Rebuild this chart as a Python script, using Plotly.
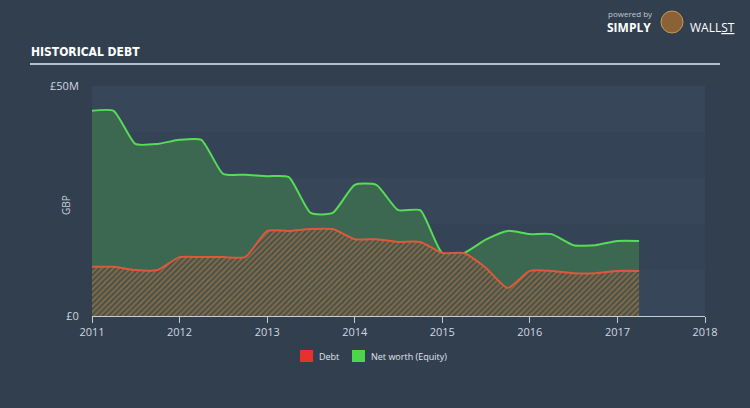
import plotly.graph_objects as go

dates = ["2011-01-01", "2011-04-01", "2011-07-01", "2011-10-01",
         "2012-01-01", "2012-04-01", "2012-07-01", "2012-10-01",
         "2013-01-01", "2013-04-01", "2013-07-01", "2013-10-01",
         "2014-01-01", "2014-04-01", "2014-07-01", "2014-10-01",
         "2015-01-01", "2015-04-01", "2015-07-01", "2015-10-01",
         "2016-01-01", "2016-04-01", "2016-07-01", "2016-10-01",
         "2017-01-01", "2017-04-01"]
equity = [44.6, 44.6, 37.4, 37.4,
          38.3, 38.3, 30.9, 30.7,
          30.4, 30.2, 22.4, 22.4,
          28.5, 28.5, 23.0, 23.0,
          13.7, 13.7, 16.6, 18.5,
          17.8, 17.8, 15.4, 15.4,
          16.3, 16.3]
debt = [10.7, 10.7, 10.0, 10.0,
        12.8, 12.8, 12.8, 12.8,
        18.5, 18.5, 18.9, 18.9,
        16.7, 16.7, 16.1, 16.1,
        13.7, 13.7, 10.5, 6.1,
        9.8, 9.8, 9.3, 9.3,
        9.8, 9.8]
year_ticks = ["2011-01-01", "2012-01-01", "2013-01-01", "2014-01-01",
              "2015-01-01", "2016-01-01", "2017-01-01", "2018-01-01"]
year_labels = ["2011", "2012", "2013", "2014", "2015", "2016", "2017", "2018"]
y_ticks = [0, 50]
y_labels = ["£0", "£50M"]
band_edges = [(0, 10), (20, 30), (40, 50)]
legend_names = ["Debt", "Net worth (Equity)"]
legend_colors = ["#e8302c", "#4cd64c"]

L, T, W, H = 92, 86, 613, 230


def px(x):
    return (x - L) / W


def py(y):
    return (T + H - y) / H


fig = go.Figure()
fig.add_trace(go.Scatter(
    x=dates, y=equity, mode="lines", line=dict(color="#57dc57", width=2, shape="spline", smoothing=0.55),
    fill="tozeroy", fillcolor="#3c6751", showlegend=False, hoverinfo="skip"))
fig.add_trace(go.Scatter(
    x=dates, y=debt, mode="lines", line=dict(color="#e0583c", width=2, shape="spline", smoothing=0.55),
    fill="tozeroy", fillcolor="#4f5246",
    fillpattern=dict(shape="/", fgcolor="#bb8650", bgcolor="#475046", size=4, solidity=0.5),
    showlegend=False, hoverinfo="skip"))

shapes = []
for y0, y1 in band_edges:
    shapes.append(dict(type="rect", xref="paper", yref="y", x0=0, x1=1, y0=y0, y1=y1,
                       fillcolor="#374658", line=dict(width=0), layer="below"))
# title underline
shapes.append(dict(type="line", xref="paper", yref="paper", x0=px(30), x1=px(720),
                   y0=py(64), y1=py(64), line=dict(color="#b4c2d0", width=2)))
# logo mascot placeholder
shapes.append(dict(type="circle", xref="paper", yref="paper", x0=px(661), x1=px(683),
                   y0=py(33), y1=py(11), fillcolor="#8a6236", line=dict(color="#c89a58", width=1)))

# manual legend
legend_x = [300, 352]
for lx, col in zip(legend_x, legend_colors):
    shapes.append(dict(type="rect", xref="paper", yref="paper", x0=px(lx), x1=px(lx + 13),
                       y0=py(362), y1=py(350), fillcolor=col, line=dict(width=0)))

annotations = [
    dict(text="<b>HISTORICAL DEBT</b>", xref="paper", yref="paper", x=px(29), y=py(61),
         xanchor="left", yanchor="bottom", showarrow=False,
         font=dict(family="DejaVu Sans Condensed", size=12, color="#ffffff")),
    dict(text="GBP", xref="paper", yref="paper", x=px(57), y=py(205), textangle=-90,
         showarrow=False, font=dict(family="Open Sans", size=10, color="#c8d0da")),
    dict(text="powered by", xref="paper", yref="paper", x=px(606), y=py(13),
         xanchor="left", yanchor="middle", showarrow=False,
         font=dict(family="Open Sans", size=8, color="#c0c8d2")),
    dict(text="<b>SIMPLY</b>", xref="paper", yref="paper", x=px(605), y=py(28),
         xanchor="left", yanchor="middle", showarrow=False,
         font=dict(family="Open Sans", size=12, color="#ffffff")),
    dict(text="WALL<u>ST</u>", xref="paper", yref="paper", x=px(688), y=py(28),
         xanchor="left", yanchor="middle", showarrow=False,
         font=dict(family="Open Sans", size=12, color="#ffffff")),
]
for lx, name in zip(legend_x, legend_names):
    annotations.append(dict(text=name, xref="paper", yref="paper", x=px(lx + 17), y=py(356),
                            xanchor="left", yanchor="middle", showarrow=False,
                            font=dict(family="Open Sans", size=9, color="#e0e6ee")))

fig.update_layout(
    width=750, height=408,
    margin=dict(l=L, r=750 - L - W, t=T, b=408 - T - H),
    paper_bgcolor="#323f4f", plot_bgcolor="#344355",
    font=dict(family="Open Sans", color="#d0d7e0", size=11),
    shapes=shapes, annotations=annotations, showlegend=False,
    xaxis=dict(type="date", range=["2011-01-01", "2018-01-01"], tickvals=year_ticks, ticktext=year_labels,
               showgrid=False, zeroline=False, showline=True, linecolor="#c4ccd6", linewidth=1,
               ticks="outside", ticklen=6, tickcolor="#c4ccd6", tickfont=dict(size=11, color="#d0d7e0")),
    yaxis=dict(range=[0, 50], tickvals=y_ticks, ticktext=y_labels, showgrid=False, zeroline=False,
               showline=False, ticks="outside", ticklen=10, tickcolor="rgba(0,0,0,0)",
               tickfont=dict(size=11, color="#d0d7e0")),
)

fig.write_html("out.html")
